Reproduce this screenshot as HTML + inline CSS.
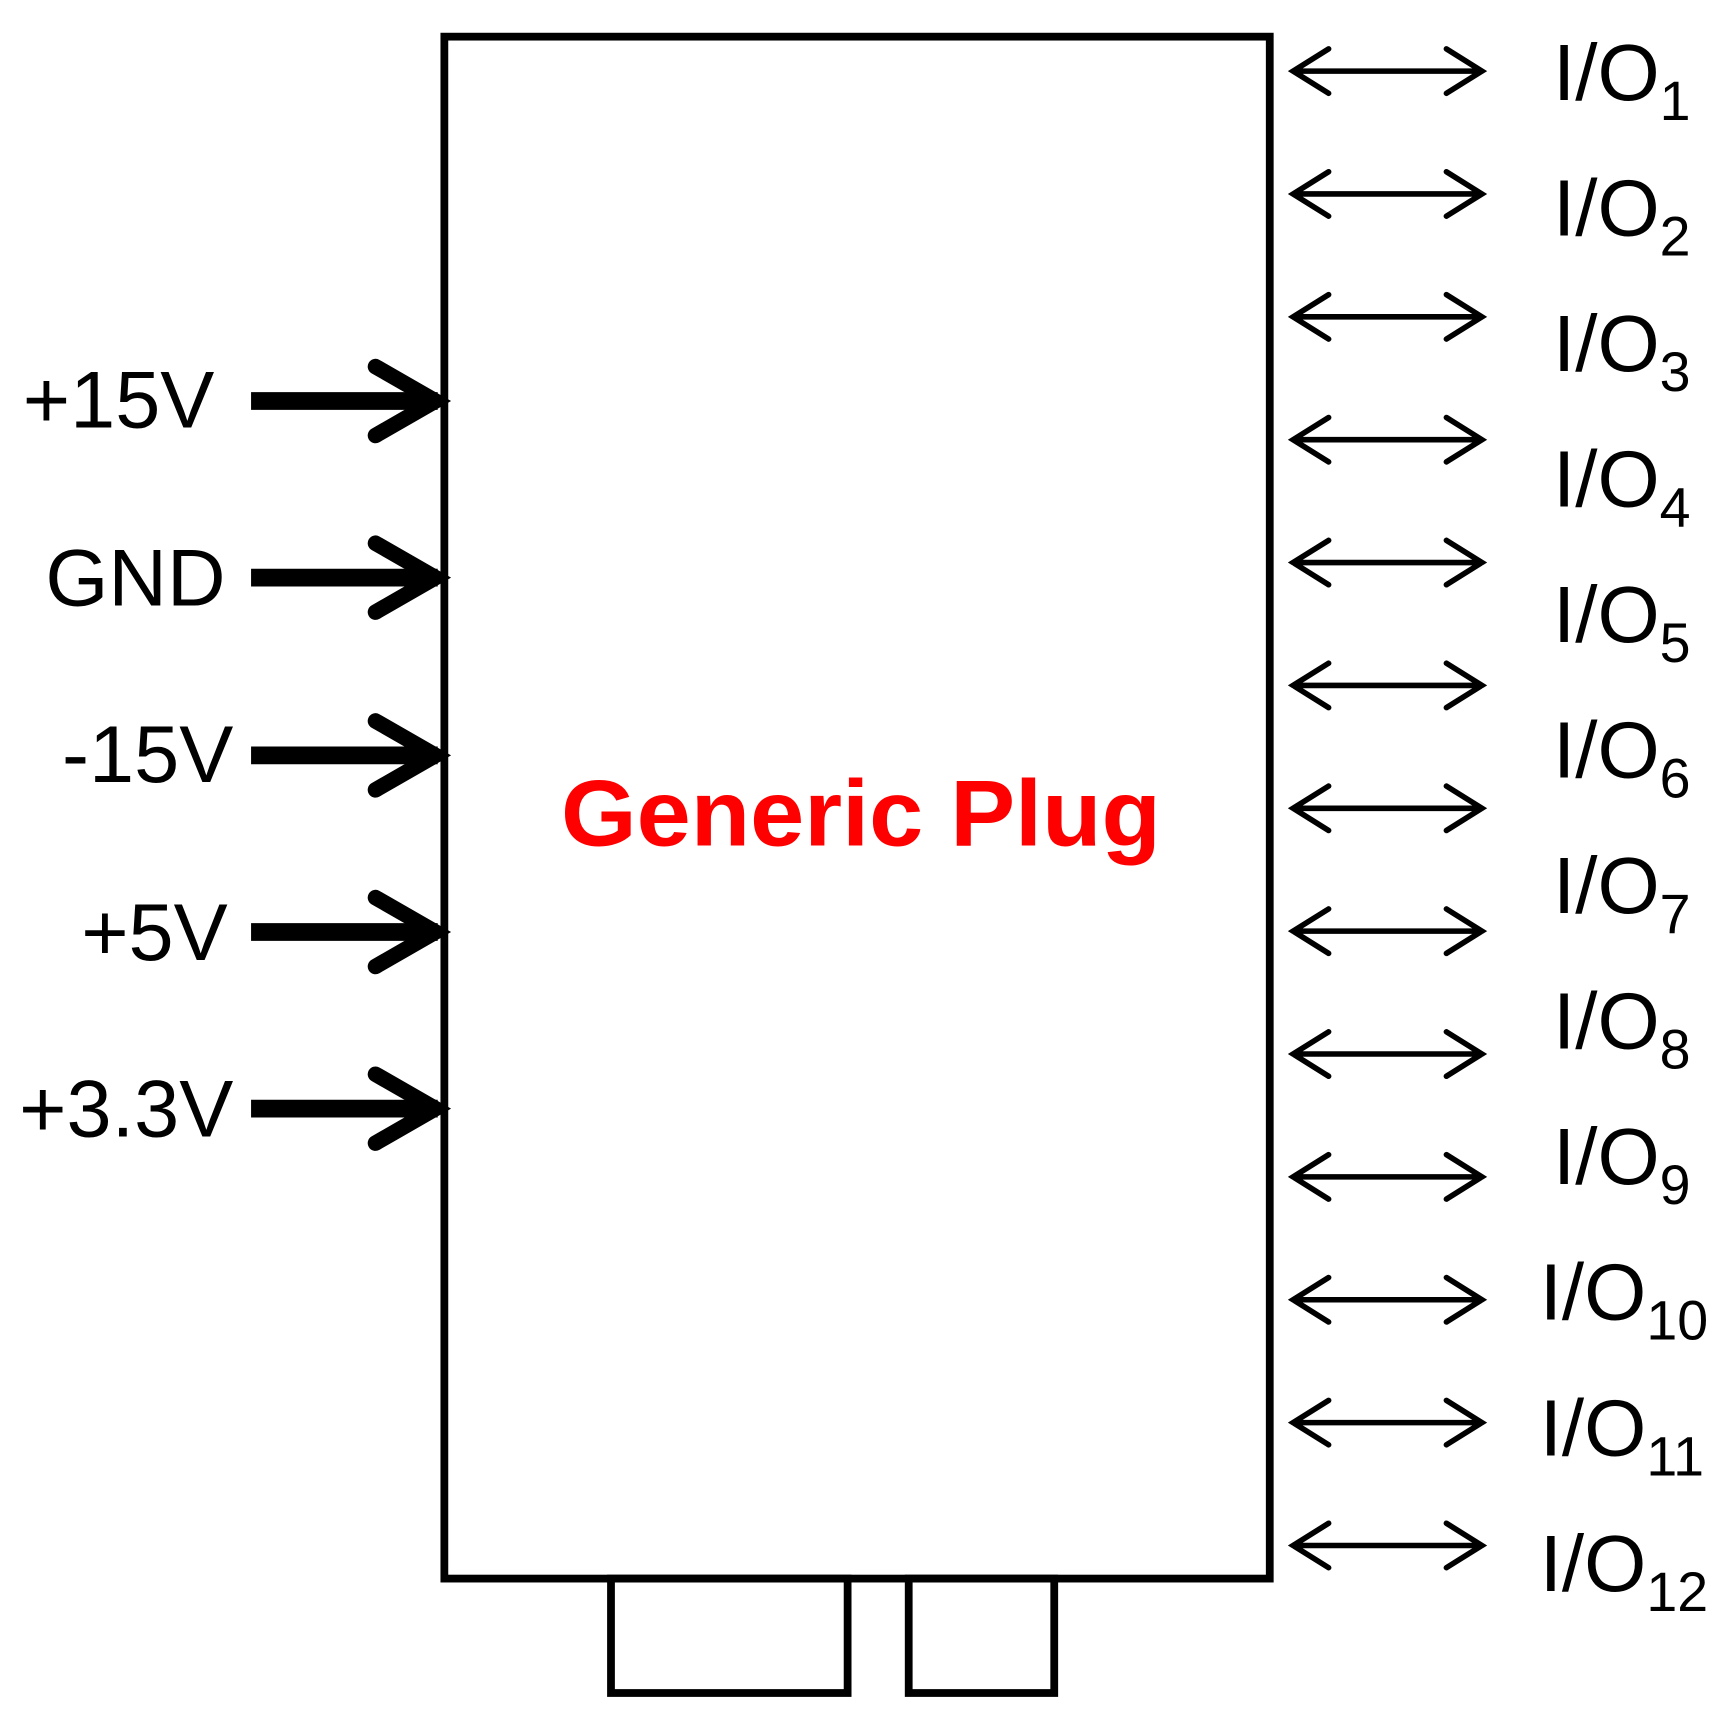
<!DOCTYPE html>
<html><head><style>html,body{margin:0;padding:0;background:#fff}svg{display:block}</style></head>
<body>
<svg width="1733" height="1723" viewBox="0 0 1560 1551" preserveAspectRatio="none" xmlns="http://www.w3.org/2000/svg">
<rect x="400" y="33" width="743" height="1388" fill="none" stroke="#000" stroke-width="7"/>
<rect x="550" y="1421" width="213" height="103" fill="none" stroke="#000" stroke-width="7"/>
<rect x="818" y="1421" width="131" height="103" fill="none" stroke="#000" stroke-width="7"/>
<text x="775" y="761" text-anchor="middle" font-family="Liberation Sans, sans-serif" font-weight="bold" font-size="84" fill="#f00" textLength="540" lengthAdjust="spacingAndGlyphs">Generic Plug</text>
<g stroke="#000" fill="none">
<g stroke-width="16"><path d="M226 361H394M226 520H394M226 680H394M226 839H394M226 998H394"/></g>
<g stroke-width="14" stroke-linecap="round" stroke-linejoin="miter">
<path d="M338 330L392 361L338 392M338 489L392 520L338 551M338 649L392 680L338 711M338 808L392 839L338 870M338 967L392 998L338 1029"/>
</g>
<g stroke-width="5" stroke-linecap="round">
<path id="ar" d="M1164 0H1334M1196 -20L1164 0L1196 20M1302 -20L1334 0L1302 20" transform="translate(0,64)"/>
<use href="#ar" y="110.6"/><use href="#ar" y="221.2"/><use href="#ar" y="331.8"/><use href="#ar" y="442.4"/><use href="#ar" y="553"/><use href="#ar" y="663.6"/><use href="#ar" y="774.2"/><use href="#ar" y="884.8"/><use href="#ar" y="995.4"/><use href="#ar" y="1106"/><use href="#ar" y="1216.6"/><use href="#ar" y="1327.2"/>
</g>
</g>
<g font-family="Liberation Sans, sans-serif" font-size="73" fill="#000" text-anchor="end">
<text x="193" y="385">+15V</text>
<text x="203" y="545">GND</text>
<text x="210" y="704">-15V</text>
<text x="205" y="864">+5V</text>
<text x="210" y="1023">+3.3V</text>
</g>
<g font-family="Liberation Sans, sans-serif" font-size="72" fill="#000">
<text x="1398" y="90">I/O<tspan font-size="50" dy="18">1</tspan></text>
<text x="1398" y="212">I/O<tspan font-size="50" dy="18">2</tspan></text>
<text x="1398" y="334">I/O<tspan font-size="50" dy="18">3</tspan></text>
<text x="1398" y="456">I/O<tspan font-size="50" dy="18">4</tspan></text>
<text x="1398" y="578">I/O<tspan font-size="50" dy="18">5</tspan></text>
<text x="1398" y="700">I/O<tspan font-size="50" dy="18">6</tspan></text>
<text x="1398" y="822">I/O<tspan font-size="50" dy="18">7</tspan></text>
<text x="1398" y="944">I/O<tspan font-size="50" dy="18">8</tspan></text>
<text x="1398" y="1066">I/O<tspan font-size="50" dy="18">9</tspan></text>
<text x="1386" y="1188">I/O<tspan font-size="50" dy="18">10</tspan></text>
<text x="1386" y="1310">I/O<tspan font-size="50" dy="18">11</tspan></text>
<text x="1386" y="1432">I/O<tspan font-size="50" dy="18">12</tspan></text>
</g>
</svg>
</body></html>
